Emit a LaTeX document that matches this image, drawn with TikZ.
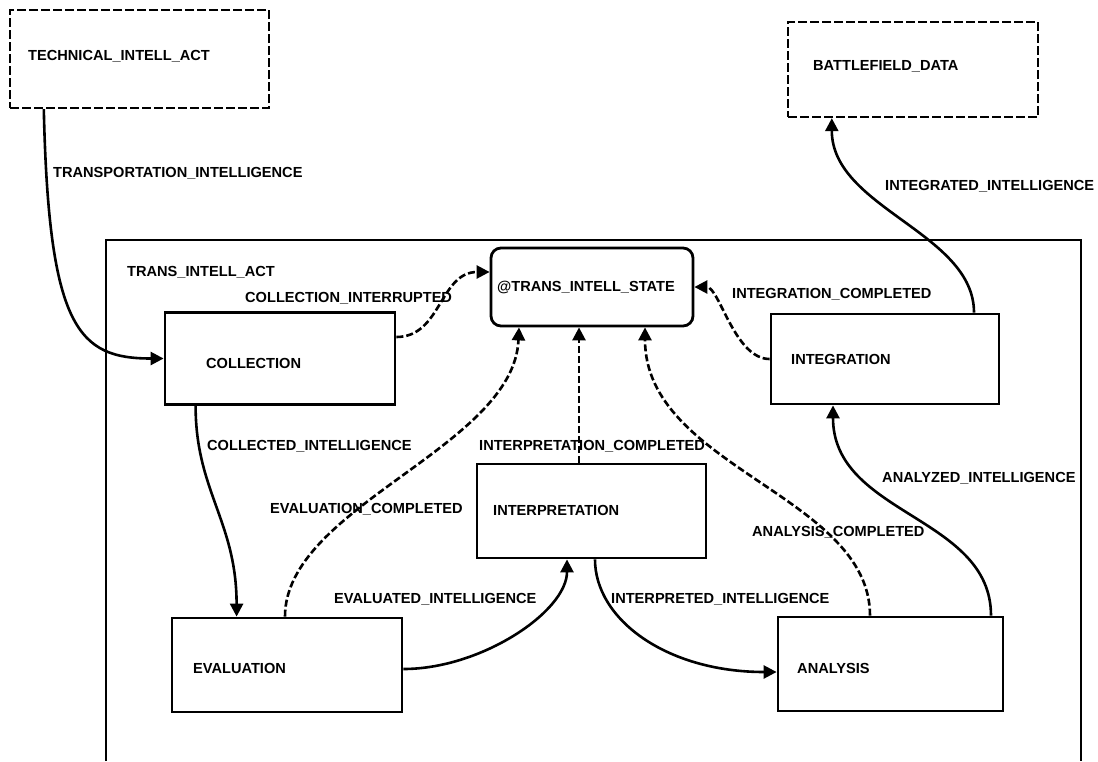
\documentclass[tikz,border=0pt]{standalone}
\usepackage{fontspec}
\setmainfont{Liberation Sans}
\usetikzlibrary{arrows.meta,calc}

\tikzset{
  box/.style={draw, line width=2.8pt, minimum width=230pt, minimum height=92pt, inner sep=0pt},
  extbox/.style={box, line width=2.4pt, dash pattern=on 9pt off 3pt},
  lbl/.style={anchor=west, inner sep=0pt, text height=10.5pt, text depth=0pt,
    font=\fontsize{14.6}{16}\selectfont\bfseries},
  flow/.style={line width=2.6pt, -{Triangle[length=13pt,width=13pt]}},
  done/.style={flow, dash pattern=on 7pt off 3pt},
}

\begin{document}
\begin{tikzpicture}[x=1pt,y=-1pt]
  \useasboundingbox (0,0) rectangle (1098,761);

  % outside activities
  \node[extbox, minimum width=259pt, minimum height=98pt] (tech) at (139.5,59) {};
  \node[lbl] (tech-t) at (28,55) {TECHNICAL\_INTELL\_ACT};
  \node[extbox, minimum width=250pt, minimum height=95pt] (bf) at (913,69.5) {};
  \node[lbl] (bf-t) at (813,65) {BATTLEFIELD\_DATA};

  % activity frame, open at the bottom
  \draw[line width=2.6pt] (106,761) -- (106,240) -- (1081,240) -- (1081,761);
  \node[lbl] (act-t) at (127,271) {TRANS\_INTELL\_ACT};

  % states
  \node[box, rounded corners=10pt, minimum width=202pt, minimum height=78pt] (tis) at (592,287) {};
  \node[lbl] (tis-t) at (497,286) {@TRANS\_INTELL\_STATE};
  \node[box] (coll) at (280,358.5) {};
  \node[lbl] (coll-t) at (206,363) {COLLECTION};
  \node[box, minimum width=228pt, minimum height=90pt] (integ) at (885,359) {};
  \node[lbl] (integ-t) at (791,359) {INTEGRATION};
  \node[box, minimum width=229pt, minimum height=94pt] (interp) at (591.5,511) {};
  \node[lbl] (interp-t) at (493,510) {INTERPRETATION};
  \node[box, minimum height=94pt] (eval) at (287,665) {};
  \node[lbl] (eval-t) at (193,668) {EVALUATION};
  \node[box, minimum width=225pt, minimum height=94pt] (anal) at (890.5,664) {};
  \node[lbl] (anal-t) at (797,668) {ANALYSIS};

  % data flows
  \draw[flow] ($(tech.south west)+(35,0)$) .. controls +(5,220) and +(-85,0) .. (coll.west);
  \node[lbl] (transp-l) at (53,172) {TRANSPORTATION\_INTELLIGENCE};
  \draw[flow] ($(coll.south west)+(32,0)$) .. controls +(0,85) and +(0,-95) .. ($(eval.north west)+(66,0)$);
  \node[lbl] (colld-l) at (207,445) {COLLECTED\_INTELLIGENCE};
  \draw[flow] ($(eval.east)+(0,4)$) .. controls +(78,0) and +(0,52) .. ($(interp.south)+(-24.5,0)$);
  \node[lbl] (evald-l) at (334,598) {EVALUATED\_INTELLIGENCE};
  \draw[flow] ($(interp.south)+(3.5,0)$) .. controls +(0,60) and +(-110,0) .. ($(anal.west)+(0,8)$);
  \node[lbl] (interpd-l) at (611,598) {INTERPRETED\_INTELLIGENCE};
  \draw[flow] ($(anal.north)+(100.5,0)$) .. controls +(0,-100) and +(0,110) .. ($(integ.south)+(-52,0)$);
  \node[lbl] (anald-l) at (882,477) {ANALYZED\_INTELLIGENCE};
  \draw[flow] ($(integ.north)+(89,0)$) .. controls +(0,-80) and +(0,90) .. ($(bf.south west)+(45,0)$);
  \node[lbl] (integd-l) at (885,185) {INTEGRATED\_INTELLIGENCE};

  % returns to the state
  \draw[done] ($(coll.east)+(0,-21.5)$) .. controls +(45,0) and +(-50,0) .. ($(tis.west)+(0,-15)$);
  \node[lbl] (collint-l) at (245,297) {COLLECTION\_INTERRUPTED};
  \draw[done] ($(eval.north)+(-2,0)$) .. controls +(0,-110) and +(-5,120) .. ($(tis.south)+(-73,0)$);
  \node[lbl] (evalc-l) at (270,508) {EVALUATION\_COMPLETED};
  \draw[done] ($(interp.north)+(-12.5,0)$) -- ($(tis.south)+(-13,0)$);
  \node[lbl] (interpc-l) at (479,445) {INTERPRETATION\_COMPLETED};
  \draw[done] ($(anal.north)+(-20.5,0)$) .. controls +(0,-120) and +(0,140) .. ($(tis.south)+(53,0)$);
  \node[lbl] (analc-l) at (752,531) {ANALYSIS\_COMPLETED};
  \draw[done] (integ.west) .. controls +(-35,0) and +(25,0) .. (tis.east);
  \node[lbl] (integc-l) at (732,293) {INTEGRATION\_COMPLETED};
\end{tikzpicture}
\end{document}
